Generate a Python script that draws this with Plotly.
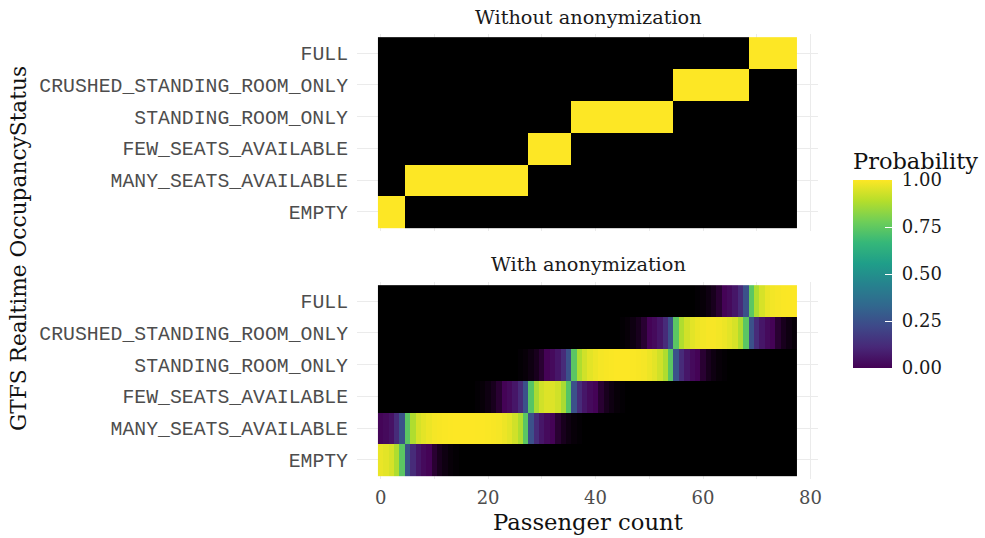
import plotly.graph_objects as go

W, H = 985, 538

categories = ["EMPTY", "MANY_SEATS_AVAILABLE", "FEW_SEATS_AVAILABLE",
              "STANDING_ROOM_ONLY", "CRUSHED_STANDING_ROOM_ONLY", "FULL"]
passenger_count = list(range(78))
x_ticks = [0, 20, 40, 60, 80]
legend_ticks = [0.0, 0.25, 0.5, 0.75, 1.0]
legend_ticktext = ["0.00", "0.25", "0.50", "0.75", "1.00"]

# Without anonymization (probability per passenger count)
empty_plain = [1] * 5 + [0] * 73
many_plain = [0] * 5 + [1] * 23 + [0] * 50
few_plain = [0] * 28 + [1] * 8 + [0] * 42
standing_plain = [0] * 36 + [1] * 19 + [0] * 23
crushed_plain = [0] * 55 + [1] * 14 + [0] * 9
full_plain = [0] * 69 + [1] * 9

# With anonymization
empty_anon = [0.97, 0.96, 0.94, 0.88, 0.74, 0.25, 0.12, 0.07, 0.04, 0.025,
              0.012, 0.007, 0.004, 0.002, 0.001] + [0] * 63
many_anon = [0.03, 0.04, 0.06, 0.12, 0.25, 0.74, 0.88, 0.94, 0.96, 0.975,
             0.988, 0.993, 0.996, 0.998, 1.0, 1.0, 1.0, 1.0, 0.999, 0.998,
             0.996, 0.993, 0.988, 0.975, 0.96, 0.93, 0.88, 0.74, 0.25, 0.12,
             0.07, 0.04, 0.025, 0.012, 0.007, 0.004, 0.002, 0.001] + [0] * 40
few_anon = [0] * 18 + [0.001, 0.002, 0.004, 0.007, 0.012, 0.025, 0.04, 0.07,
                       0.12, 0.25, 0.73, 0.87, 0.93, 0.95, 0.95, 0.93, 0.87,
                       0.73, 0.25, 0.12, 0.07, 0.04, 0.025, 0.012, 0.007,
                       0.004, 0.002, 0.001] + [0] * 32
standing_anon = [0] * 26 + [0.001, 0.002, 0.004, 0.007, 0.012, 0.025, 0.04,
                            0.07, 0.12, 0.25,
                            0.74, 0.88, 0.93, 0.96, 0.975, 0.988, 0.993,
                            0.996, 0.998, 0.999, 0.998, 0.996, 0.993, 0.988,
                            0.975, 0.96, 0.93, 0.88, 0.74,
                            0.25, 0.12, 0.07, 0.04, 0.025, 0.012, 0.007,
                            0.004, 0.002, 0.001] + [0] * 13
crushed_anon = [0] * 45 + [0.001, 0.002, 0.004, 0.007, 0.012, 0.025, 0.04,
                           0.07, 0.12, 0.25,
                           0.74, 0.88, 0.93, 0.96, 0.975, 0.985, 0.99, 0.99,
                           0.985, 0.975, 0.96, 0.94, 0.88, 0.74,
                           0.25, 0.12, 0.07, 0.04, 0.025, 0.012, 0.007,
                           0.004, 0.002]
full_anon = [0] * 59 + [0.001, 0.002, 0.004, 0.007, 0.012, 0.025, 0.04, 0.07,
                        0.12, 0.25,
                        0.74, 0.88, 0.94, 0.97, 0.985, 0.99, 0.995, 0.997,
                        0.998]

z_plain = [empty_plain, many_plain, few_plain, standing_plain, crushed_plain, full_plain]
z_anon = [empty_anon, many_anon, few_anon, standing_anon, crushed_anon, full_anon]

viridis = [[0.0, "#440154"], [0.1111, "#482878"], [0.2222, "#3e4989"],
           [0.3333, "#31688e"], [0.4444, "#26828e"], [0.5556, "#1f9e89"],
           [0.6667, "#35b779"], [0.7778, "#6ece58"], [0.8889, "#b5de2b"],
           [1.0, "#fde725"]]
# tiles fade to black for (near) zero probabilities
tile_scale = [[0.0, "#000000"], [0.02, "#440154"]] + viridis[1:]

SERIF = "DejaVu Serif"
MONO = "Liberation Mono"
GRID = "#ebebeb"

fig = go.Figure()
yidx = list(range(len(categories)))
fig.add_trace(go.Heatmap(x=passenger_count, y=yidx, z=z_plain, zmin=0, zmax=1,
                         colorscale=tile_scale, showscale=False,
                         xaxis="x", yaxis="y"))
fig.add_trace(go.Heatmap(x=passenger_count, y=yidx, z=z_anon, zmin=0, zmax=1,
                         colorscale=tile_scale, showscale=False,
                         xaxis="x2", yaxis="y2"))
# colour bar (pure viridis)
fig.add_trace(go.Scatter(x=[None, None], y=[None, None], mode="markers",
                         xaxis="x2", yaxis="y2", showlegend=False,
                         marker=dict(color=[0, 1], cmin=0, cmax=1,
                                     colorscale=viridis, showscale=True,
                                     colorbar=dict(
                                         x=853 / W, xanchor="left",
                                         y=(H - 368) / H, yanchor="bottom",
                                         len=219, lenmode="pixels",
                                         thickness=39, thicknessmode="pixels",
                                         outlinewidth=0, xpad=0, ypad=0,
                                         tickvals=legend_ticks,
                                         ticktext=["\u00a0" + t for t in legend_ticktext],
                                         ticks="inside", ticklen=7,
                                         tickcolor="white", tickwidth=1.2,
                                         tickfont=dict(family=SERIF, size=18, color="#1a1a1a"),
                                         title=dict(text="Probability", side="top",
                                                    font=dict(family=SERIF, size=22.5, color="#111")),
                                     ))))

xdom = [357 / W, 818 / W]
top_dom = [(H - 231) / H, (H - 34) / H]
bot_dom = [(H - 479) / H, (H - 282) / H]

xcommon = dict(domain=xdom, range=[-4.4, 81.4], tickvals=x_ticks,
               showgrid=True, gridcolor=GRID, gridwidth=1.3, zeroline=False,
               showline=False, ticks="",
               minor=dict(tickvals=[10, 30, 50, 70], showgrid=True,
                          gridcolor=GRID, gridwidth=0.7))
ycommon = dict(range=[-0.6, 5.6], tickvals=yidx, ticktext=categories,
               showgrid=True, gridcolor=GRID, gridwidth=1.3, zeroline=False,
               showline=False, ticks="", ticklabelstandoff=8,
               tickfont=dict(family=MONO, size=19.8, color="#4d4d4d"))


def label(text, xpx, ypx, size, angle=0, color="#111"):
    return dict(text=text, x=xpx / W, y=1 - ypx / H, xref="paper", yref="paper",
                xanchor="center", yanchor="middle", showarrow=False,
                textangle=angle, font=dict(family=SERIF, size=size, color=color))


fig.update_layout(
    width=W, height=H,
    margin=dict(l=0, r=0, t=0, b=0, autoexpand=False),
    paper_bgcolor="white", plot_bgcolor="white",
    showlegend=False,
    xaxis=dict(**xcommon, anchor="y", showticklabels=False),
    yaxis=dict(**ycommon, domain=top_dom, anchor="x"),
    xaxis2=dict(**xcommon, anchor="y2", showticklabels=True,
                ticklabelstandoff=6,
                tickfont=dict(family=SERIF, size=18, color="#4d4d4d")),
    yaxis2=dict(**ycommon, domain=bot_dom, anchor="x2"),
    annotations=[
        label("Without anonymization", 588.5, 17, 19.3, color="#1a1a1a"),
        label("With anonymization", 588.5, 264, 19.3, color="#1a1a1a"),
        label("Passenger count", 587.5, 522, 22.7),
        label("GTFS Realtime OccupancyStatus", 18, 249, 21.7, angle=-90),
    ],
)

fig.write_html("out.html",
               config={"displayModeBar": False},
               post_script="document.body.style.margin='0';"
                           "document.body.style.padding='0';"
                           "document.body.style.overflow='hidden';")
